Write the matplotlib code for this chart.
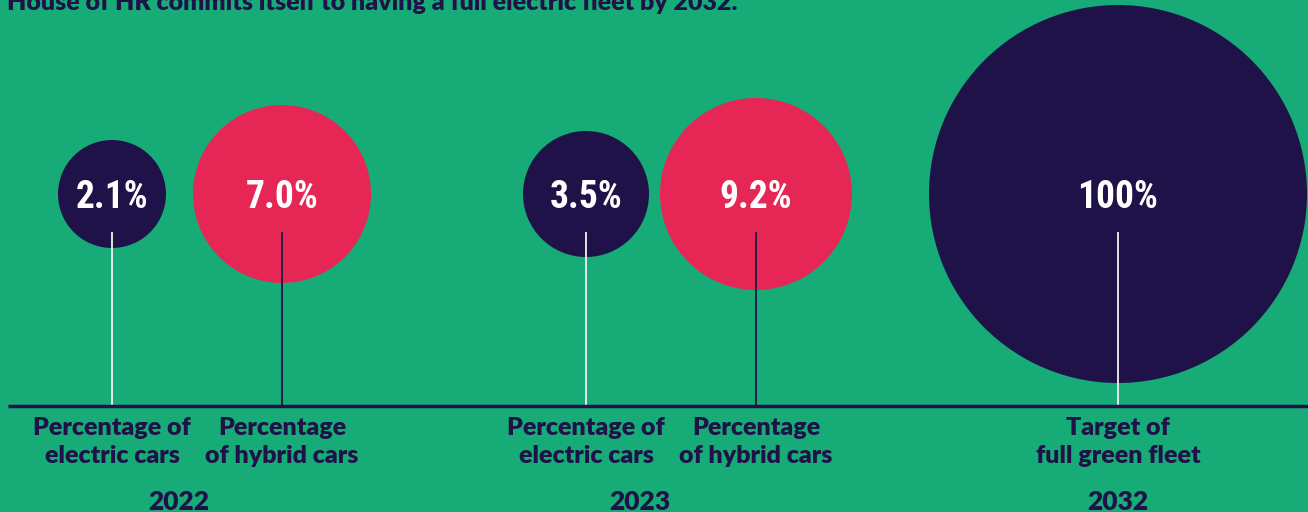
import matplotlib
matplotlib.use('Agg')
import matplotlib.pyplot as plt
from matplotlib import font_manager
from matplotlib.patches import Circle

# data
years = ['2022', '2023', '2032']
values = [2.1, 7.0, 3.5, 9.2, 100]
kinds = ['electric', 'hybrid', 'electric', 'hybrid', 'target']
labels = ['Percentage of\nelectric cars', 'Percentage\nof hybrid cars',
          'Percentage of\nelectric cars', 'Percentage\nof hybrid cars',
          'Target of\nfull green fleet']
title = 'House of HR commits itself to having a full electric fleet by 2032.'

# layout (pixels)
bubble_x = [112, 282, 586, 756, 1118]
bubble_r = [54, 89, 63, 96, 189]
year_x = [179, 640, 1118]

GREEN = '#16ab77'
NAVY = '#1f1248'
RED = '#e62755'
colors = {'electric': NAVY, 'hybrid': RED, 'target': NAVY}
stem_colors = {'electric': '#f2f2f2', 'hybrid': NAVY, 'target': '#f2f2f2'}

names = {f.name for f in font_manager.fontManager.ttflist}
num_font = 'DejaVu Sans'
for cand in ['Liberation Sans Narrow', 'Roboto Condensed', 'DejaVu Sans Condensed']:
    if cand in names:
        num_font = cand
        break
txt_font = 'Lato' if 'Lato' in names else 'DejaVu Sans'

W, H = 1308, 512
fig = plt.figure(figsize=(W / 100, H / 100), dpi=100)
fig.patch.set_facecolor(GREEN)
ax = fig.add_axes([0, 0, 1, 1])
ax.set_facecolor(GREEN)
ax.set_xlim(0, W)
ax.set_ylim(H, 0)
ax.axis('off')

cy = 194
base_y = 406
for x, r, v, k, lab in zip(bubble_x, bubble_r, values, kinds, labels):
    ax.add_patch(Circle((x, cy), r, color=colors[k], lw=0, zorder=2))
    ax.plot([x, x], [232, base_y], color=stem_colors[k], lw=1.3, zorder=3,
            solid_capstyle='butt')
    txt = f'{v:.0f}%' if v >= 100 else f'{v:.1f}%'
    ax.text(x, 208, txt, ha='center', va='baseline', color='white',
            fontsize=27, fontweight='heavy', family=num_font, zorder=4)
    for i, line in enumerate(lab.split('\n')):
        ax.text(x, 435 + 28 * i, line, ha='center', va='baseline', color=NAVY,
                fontsize=18, fontweight='heavy', family=txt_font)

ax.plot([8, W], [base_y, base_y], color=NAVY, lw=2.5, zorder=3,
        solid_capstyle='butt')

for yx, yr in zip(year_x, years):
    ax.text(yx, 510, yr, ha='center', va='baseline', color=NAVY,
            fontsize=19, fontweight='heavy', family=txt_font)

ax.text(7, 10, title, ha='left', va='baseline', color=NAVY,
        fontsize=18, fontweight='heavy', family=txt_font)

fig.savefig('out.png', dpi=100, facecolor=GREEN)
